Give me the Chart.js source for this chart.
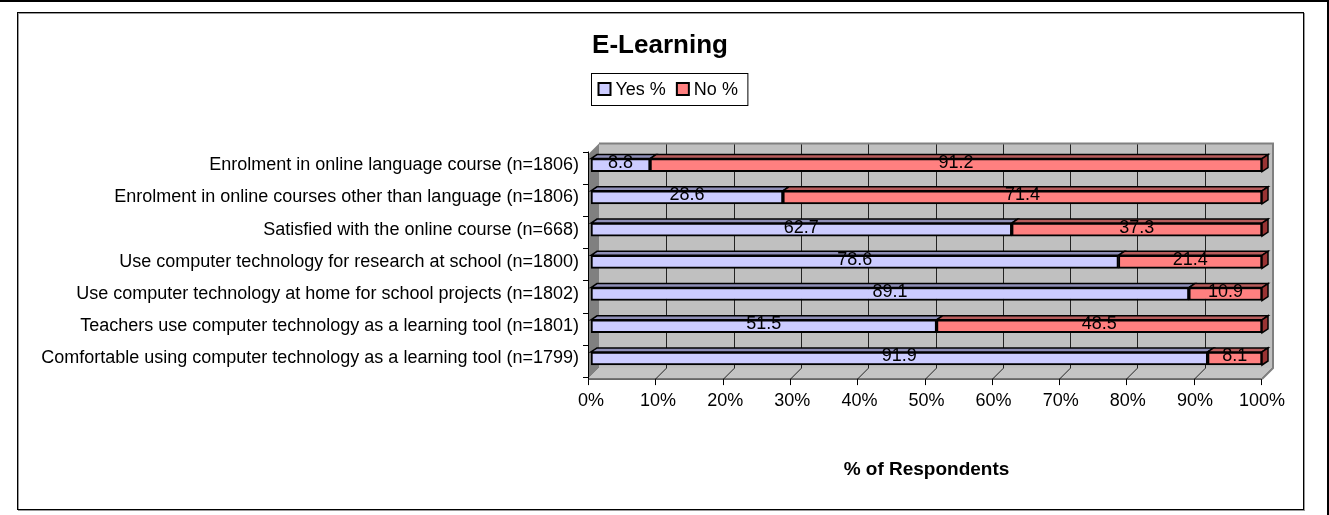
<!DOCTYPE html>
<html>
<head>
<meta charset="utf-8">
<title>E-Learning</title>
<script src="https://cdn.jsdelivr.net/npm/chart.js@4"></script>
<style>
  html, body { margin: 0; padding: 0; background: #fff; }
  canvas { display: block; }
</style>
</head>
<body>
<canvas id="chart" width="1329" height="515"></canvas>
<script>
const categories = [
    "Enrolment in online language course (n=1806)",
    "Enrolment in online courses other than language (n=1806)",
    "Satisfied with the online course (n=668)",
    "Use computer technology for research at school (n=1800)",
    "Use computer technology at home for school projects (n=1802)",
    "Teachers use computer technology as a learning tool (n=1801)",
    "Comfortable using computer technology as a learning tool (n=1799)"
];
const yesValues = [8.8, 28.6, 62.7, 78.6, 89.1, 51.5, 91.9];
const noValues = [91.2, 71.4, 37.3, 21.4, 10.9, 48.5, 8.1];
const seriesNames = ["Yes %", "No %"];
const chartTitle = "E-Learning";

const FONT = "'Liberation Sans', Arial, sans-serif";
const DEPTH = 11;

// frame, back wall, side wall and floor of the 3D plot area
const wallPlugin = {
    id: 'walls',
    beforeDraw(chart) {
        const ctx = chart.ctx;
        ctx.save();
        ctx.fillStyle = '#fff';
        ctx.fillRect(0, 0, chart.width, chart.height);
        // page lines
        ctx.strokeStyle = '#000';
        ctx.lineWidth = 2;
        ctx.beginPath();
        ctx.moveTo(0, 1); ctx.lineTo(chart.width, 1);
        ctx.moveTo(1328, 0); ctx.lineTo(1328, chart.height);
        ctx.stroke();
        // chart box with shadow
        ctx.strokeStyle = '#999';
        ctx.lineWidth = 1;
        ctx.strokeRect(18.5, 13.5, 1286, 497);
        ctx.strokeStyle = '#000';
        ctx.strokeRect(17.5, 12.5, 1286, 497);
        ctx.restore();
    },
    beforeDatasetsDraw(chart) {
        const ctx = chart.ctx;
        const xs = chart.scales.x;
        const area = chart.chartArea;
        const fx0 = xs.getPixelForValue(0) - 3;
        const fx1 = xs.getPixelForValue(100) - 1;
        const fyB = area.bottom + 4.5;
        const fyT = area.top + 5.5;
        const D = DEPTH;
        ctx.save();
        // side wall
        ctx.fillStyle = '#808080';
        ctx.beginPath();
        ctx.moveTo(fx0, fyT); ctx.lineTo(fx0 + D, fyT - D);
        ctx.lineTo(fx0 + D, fyB - D); ctx.lineTo(fx0, fyB);
        ctx.closePath(); ctx.fill();
        // back wall
        ctx.fillStyle = '#c0c0c0';
        ctx.fillRect(fx0 + D, fyT - D, fx1 - fx0, fyB - fyT);
        // floor
        ctx.fillStyle = '#c4c4c4';
        ctx.beginPath();
        ctx.moveTo(fx0, fyB); ctx.lineTo(fx1, fyB);
        ctx.lineTo(fx1 + D, fyB - D); ctx.lineTo(fx0 + D, fyB - D);
        ctx.closePath(); ctx.fill();
        // gridlines on the back wall and floor
        ctx.strokeStyle = '#222';
        ctx.lineWidth = 1;
        for (let k = 1; k <= 10; k++) {
            const x = Math.round(fx0 + k * (fx1 - fx0) / 10) + 0.5;
            ctx.beginPath();
            ctx.moveTo(x + D, fyT - D); ctx.lineTo(x + D, fyB - D);
            ctx.moveTo(x, fyB); ctx.lineTo(x + D, fyB - D);
            ctx.stroke();
        }
        // right edge of back wall
        ctx.strokeStyle = '#808080';
        ctx.lineWidth = 2;
        ctx.beginPath();
        ctx.moveTo(fx0 + D, fyT - D); ctx.lineTo(fx1 + D + 1, fyT - D);
        ctx.lineTo(fx1 + D + 1, fyB - D); ctx.lineTo(fx1 + 1, fyB);
        ctx.stroke();
        // axes
        ctx.strokeStyle = '#000';
        ctx.lineWidth = 1;
        ctx.beginPath();
        ctx.moveTo(fx0 + 0.5, fyT - 3); ctx.lineTo(fx0 + 0.5, fyB);
        ctx.lineTo(fx1, fyB);
        for (let i = 0; i <= categories.length; i++) {
            const y = Math.round(area.top + i * (area.bottom - area.top) / categories.length + 2.5) + 0.5;
            ctx.moveTo(fx0 - 5, y); ctx.lineTo(fx0, y);
        }
        for (let k = 0; k <= 10; k++) {
            const x = Math.round(fx0 + k * (fx1 - fx0) / 10) + 0.5;
            ctx.moveTo(x, fyB); ctx.lineTo(x, fyB + 6);
        }
        ctx.stroke();
        ctx.restore();
    },
    afterDatasetsDraw(chart) {
        const ctx = chart.ctx;
        ctx.save();
        const tops = ['#8f8fb8', '#b85c5c'];
        const ends = ['#666699', '#993333'];
        // top faces and end caps of the bars
        chart.data.datasets.forEach((ds, di) => {
            chart.getDatasetMeta(di).data.forEach((bar, i) => {
                const left = Math.min(bar.base, bar.x);
                const right = Math.max(bar.base, bar.x);
                const top = bar.y - bar.height / 2;
                const bottom = bar.y + bar.height / 2;
                const dx = 6, dy = 4;
                ctx.lineWidth = 1.5;
                ctx.strokeStyle = '#000';
                ctx.fillStyle = tops[di];
                ctx.beginPath();
                ctx.moveTo(left, top); ctx.lineTo(left + dx, top - dy);
                ctx.lineTo(right + dx, top - dy); ctx.lineTo(right, top);
                ctx.closePath(); ctx.fill(); ctx.stroke();
                if (di === chart.data.datasets.length - 1) {
                    ctx.fillStyle = ends[di];
                    ctx.beginPath();
                    ctx.moveTo(right, top); ctx.lineTo(right + dx, top - dy);
                    ctx.lineTo(right + dx, bottom - dy); ctx.lineTo(right, bottom);
                    ctx.closePath(); ctx.fill(); ctx.stroke();
                }
            });
        });
        // value labels
        ctx.font = '18px ' + FONT;
        ctx.fillStyle = '#000';
        ctx.textAlign = 'center';
        ctx.textBaseline = 'middle';
        chart.data.datasets.forEach((ds, di) => {
            chart.getDatasetMeta(di).data.forEach((bar, i) => {
                ctx.fillText(ds.data[i].toFixed(1), (bar.base + bar.x) / 2, bar.y - 2);
            });
        });
        ctx.restore();
    },
    afterDraw(chart) {
        const ctx = chart.ctx;
        ctx.save();
        // title
        ctx.font = 'bold 26px ' + FONT;
        ctx.fillStyle = '#000';
        ctx.textAlign = 'center';
        ctx.textBaseline = 'middle';
        ctx.fillText(chartTitle, 660, 46);
        // boxed legend
        ctx.font = '18px ' + FONT;
        const box = 12, gap = 5, itemGap = 11, padL = 7, padR = 10;
        const widths = seriesNames.map(n => box + gap + ctx.measureText(n).width);
        const total = widths.reduce((a, b) => a + b, 0) + itemGap * (seriesNames.length - 1) + padL + padR;
        const bx = Math.round(669 - total / 2) + 0.5;
        const by = 73.5, bh = 32;
        ctx.strokeStyle = '#000';
        ctx.lineWidth = 1;
        ctx.strokeRect(bx, by, total, bh);
        let x = bx + padL;
        ctx.textAlign = 'left';
        chart.data.datasets.forEach((ds, di) => {
            ctx.fillStyle = ds.backgroundColor;
            ctx.fillRect(x, 83, box, box);
            ctx.lineWidth = 2;
            ctx.strokeRect(x, 83, box, box);
            ctx.fillStyle = '#000';
            ctx.fillText(seriesNames[di], x + box + gap, 90);
            x += widths[di] + itemGap;
        });
        ctx.restore();
    }
};

new Chart(document.getElementById('chart'), {
    type: 'bar',
    data: {
        labels: categories,
        datasets: [
            {
                label: seriesNames[0],
                data: yesValues,
                backgroundColor: '#ccccff',
                borderColor: '#000',
                borderWidth: 2,
                borderSkipped: false,
                barThickness: 13
            },
            {
                label: seriesNames[1],
                data: noValues,
                backgroundColor: '#ff8080',
                borderColor: '#000',
                borderWidth: 2,
                borderSkipped: false,
                barThickness: 13
            }
        ]
    },
    options: {
        indexAxis: 'y',
        responsive: false,
        animation: false,
        layout: {
            padding: { top: 149, right: 67, bottom: 30, left: 0 }
        },
        plugins: {
            legend: { display: false },
            tooltip: { enabled: false },
            title: { display: false }
        },
        scales: {
            x: {
                stacked: true,
                min: 0,
                max: 100,
                border: { display: false },
                grid: { display: false, drawTicks: false },
                ticks: {
                    stepSize: 10,
                    padding: 16,
                    color: '#000',
                    font: { family: FONT, size: 18 },
                    callback: v => v + '%'
                },
                title: {
                    display: true,
                    text: '% of Respondents',
                    color: '#000',
                    font: { family: FONT, size: 19, weight: 'bold' },
                    padding: { top: 30, bottom: 4 }
                }
            },
            y: {
                stacked: true,
                border: { display: false },
                grid: { display: false, drawTicks: false },
                ticks: {
                    padding: 12,
                    color: '#000',
                    font: { family: FONT, size: 18 }
                },
                afterFit(scale) { scale.width = 591; }
            }
        }
    },
    plugins: [wallPlugin]
});
</script>
</body>
</html>
